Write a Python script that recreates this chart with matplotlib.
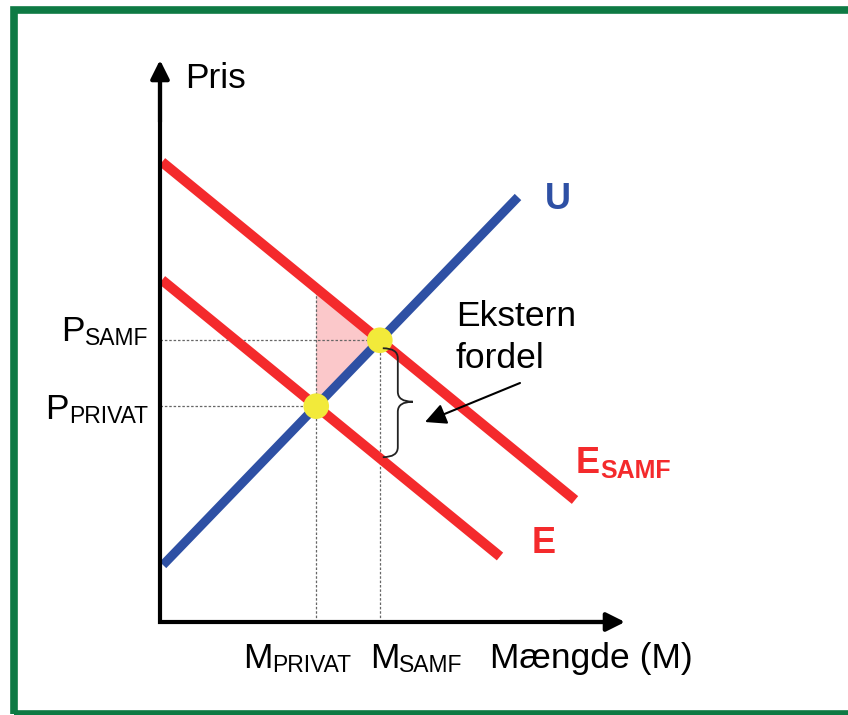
import numpy as np
import matplotlib
matplotlib.use("Agg")
import matplotlib.pyplot as plt
from matplotlib.patches import Polygon, Rectangle, PathPatch
from matplotlib.path import Path

plt.rcParams['font.family'] = ['Liberation Sans', 'DejaVu Sans']

# curve end points (quantity, price)
esamf_x = [0.2, 41.5]
esamf_y = [46.0, 12.2]
e_x = [0.2, 34.0]
e_y = [34.2, 6.55]
u_x = [0.3, 35.8]
u_y = [5.7, 42.5]

RED = '#f42a2c'
BLUE = '#2e50a4'
GREEN = '#0e7a44'
PINK = '#fbc8ca'
YELLOW = '#f2ea3a'

fig = plt.figure(figsize=(8.48, 7.15), dpi=100)
ax = fig.add_axes([0, 0, 1, 1])
ax.set_xlim(-16, 68.8)
ax.set_ylim(-9.3, 62.2)
ax.set_axis_off()

# green frame
fig.patches.append(Rectangle((0.016, 0.0015), 1.2, 0.9845, transform=fig.transFigure,
                             fill=False, edgecolor=GREEN, lw=5.5, clip_on=False))

# line coefficients and intersections
ks, ms = np.polyfit(esamf_x, esamf_y, 1)
ke, me = np.polyfit(e_x, e_y, 1)
ku, mu = np.polyfit(u_x, u_y, 1)
xp = (mu - me) / (ke - ku)
yp = ku * xp + mu
xs = (mu - ms) / (ks - ku)
ys = ku * xs + mu

# pink triangle
ax.add_patch(Polygon([(xp, ks * xp + ms), (xp, yp), (xs, ys)], closed=True,
                     facecolor=PINK, edgecolor='none', zorder=1))

# dotted guide lines
dot = dict(color='#666666', lw=0.9, linestyle=(0, (2, 1.5)), zorder=2)
ax.plot([xp, xp], [0, ks * xp + ms], **dot)
ax.plot([xs, xs], [0, ys], **dot)
ax.plot([0, xp], [yp, yp], **dot)
ax.plot([0, xs], [ys, ys], **dot)

# curves
ax.plot(esamf_x, esamf_y, color=RED, lw=7.2, solid_capstyle='butt', zorder=3)
ax.plot(e_x, e_y, color=RED, lw=7.2, solid_capstyle='butt', zorder=3)
ax.plot(u_x, u_y, color=BLUE, lw=6.5, solid_capstyle='butt', zorder=4)

# equilibrium points
ax.scatter([xp, xs], [yp, ys], s=340, color=YELLOW, edgecolor='none', zorder=5)

# axes with arrows
ax.plot([0, 0, 44.5], [54.5, 0, 0], color='black', lw=3, solid_joinstyle='miter', zorder=6)
arr = dict(arrowstyle='-|>', color='black', lw=3, mutation_scale=28, shrinkA=0, shrinkB=0)
ax.annotate('', xy=(0, 56.2), xytext=(0, 50), arrowprops=arr, zorder=6)
ax.annotate('', xy=(46.5, 0), xytext=(40, 0), arrowprops=arr, zorder=6)

# curly brace for the external benefit
x0, xm, xt = xs + 0.3, xs + 1.8, xs + 3.3
yt, yb = ys - 0.8, ke * xs + me + 0.1
ym = (yt + yb) / 2 + 0.1
r = 1.0
verts = [(x0, yt), (xm, yt), (xm, yt - r), (xm, ym + r), (xm, ym), (xt, ym),
         (xm, ym), (xm, ym - r), (xm, yb + r), (xm, yb), (x0, yb)]
codes = [Path.MOVETO, Path.CURVE3, Path.CURVE3, Path.LINETO, Path.CURVE3, Path.CURVE3,
         Path.CURVE3, Path.CURVE3, Path.LINETO, Path.CURVE3, Path.CURVE3]
ax.add_patch(PathPatch(Path(verts, codes), fill=False, edgecolor='#222222', lw=1.3, zorder=6))

ax.annotate('', xy=(26.5, 20.0), xytext=(36.0, 23.9),
            arrowprops=dict(arrowstyle='-|>', color='black', lw=1.5, mutation_scale=32,
                            shrinkA=0, shrinkB=0), zorder=7)

MAIN = 25.5
SUB = 16.5


def label_left(x, y, main, sub, size=MAIN, subsize=SUB, **kw):
    t = ax.text(x, y, main, fontsize=size, ha='left', va='baseline', **kw)
    ax.annotate(sub, xy=(1, 0), xycoords=t, xytext=(0, -1.5), textcoords='offset points',
                fontsize=subsize, ha='left', va='bottom', **kw)


def label_right(x, y, main, sub, size=MAIN, subsize=SUB, **kw):
    s = ax.text(x, y, sub, fontsize=subsize, ha='right', va='baseline', **kw)
    ax.annotate(main, xy=(0, 0), xycoords=s, xytext=(0, 1.5), textcoords='offset points',
                fontsize=size, ha='right', va='bottom', **kw)


ax.text(2.5, 53.4, 'Pris', fontsize=MAIN, va='baseline')
label_right(-1.2, ys - 0.45, 'P', 'SAMF')
label_right(-1.2, yp - 1.65, 'P', 'PRIVAT')
label_left(8.3, -4.6, 'M', 'PRIVAT')
label_left(21.0, -4.6, 'M', 'SAMF')
ax.text(33.0, -4.6, 'Mængde (M)', fontsize=MAIN, va='baseline')

ax.text(29.6, 29.6, 'Ekstern', fontsize=MAIN, va='baseline')
ax.text(29.6, 25.4, 'fordel', fontsize=MAIN, va='baseline')

ax.text(38.5, 41.3, 'U', fontsize=26, fontweight='bold', color=BLUE, va='baseline')
label_left(41.6, 14.9, 'E', 'SAMF', size=26, subsize=18, fontweight='bold', color=RED)
ax.text(37.2, 6.9, 'E', fontsize=26, fontweight='bold', color=RED, va='baseline')

fig.savefig('out.png', dpi=100)
